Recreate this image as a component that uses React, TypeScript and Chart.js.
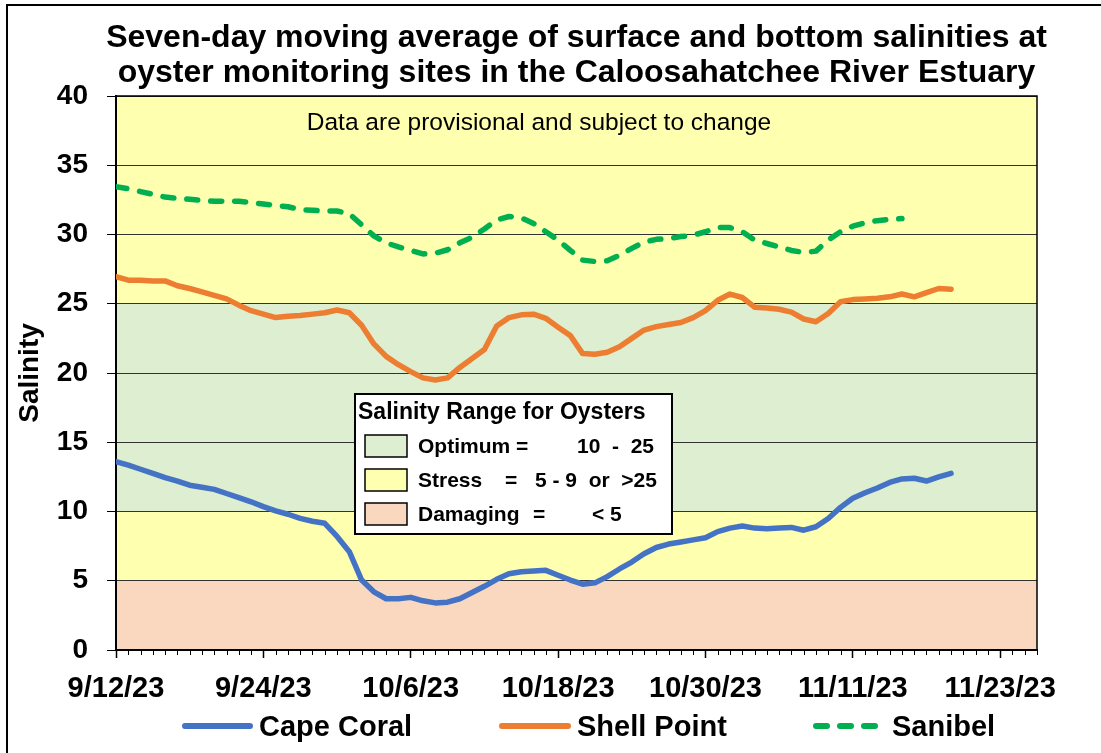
import React, { useEffect, useRef } from "react";
import { Chart, registerables } from "chart.js";

Chart.register(...registerables);

// ---------- data ----------
const tickLabels = ["9/12/23", "9/24/23", "10/6/23", "10/18/23", "10/30/23", "11/11/23", "11/23/23"];
const axisDays = 75;
const tickStep = 12;

const capeCoral = [
  13.6, 13.35, 13.05, 12.75, 12.45, 12.2, 11.9, 11.75, 11.6, 11.3,
  11.0, 10.7, 10.35, 10.05, 9.8, 9.5, 9.3, 9.15, 8.2, 7.1,
  5.05, 4.2, 3.7, 3.7, 3.8, 3.55, 3.4, 3.45, 3.7, 4.15,
  4.6, 5.1, 5.5, 5.65, 5.7, 5.75, 5.4, 5.05, 4.75, 4.85,
  5.3, 5.85, 6.35, 6.95, 7.4, 7.65, 7.8, 7.95, 8.1, 8.55,
  8.8, 8.95, 8.8, 8.75, 8.8, 8.85, 8.65, 8.9, 9.5, 10.3,
  10.95, 11.35, 11.7, 12.1, 12.35, 12.4, 12.2, 12.5, 12.75,
];

const shellPoint = [
  26.95, 26.7, 26.7, 26.65, 26.65, 26.3, 26.1, 25.85, 25.6, 25.35,
  24.9, 24.5, 24.25, 24.0, 24.1, 24.15, 24.25, 24.35, 24.55, 24.35,
  23.45, 22.1, 21.2, 20.6, 20.1, 19.65, 19.5, 19.65, 20.4, 21.05,
  21.7, 23.4, 24.0, 24.2, 24.25, 23.95, 23.3, 22.7, 21.4, 21.35,
  21.5, 21.9, 22.5, 23.1, 23.35, 23.5, 23.65, 24.0, 24.5, 25.25,
  25.7, 25.45, 24.75, 24.7, 24.6, 24.4, 23.9, 23.7, 24.3, 25.15,
  25.3, 25.35, 25.4, 25.5, 25.7, 25.5, 25.8, 26.1, 26.05,
];

const sanibel = [
  33.45, 33.3, 33.1, 32.9, 32.7, 32.6, 32.55, 32.45, 32.4, 32.4,
  32.4, 32.3, 32.2, 32.1, 32.0, 31.8, 31.75, 31.7, 31.7, 31.5,
  30.7, 29.9, 29.4, 29.1, 28.85, 28.6, 28.65, 28.9, 29.4, 29.8,
  30.4, 31.05, 31.3, 31.2, 30.8, 30.2, 29.6, 28.85, 28.15, 28.05,
  28.1, 28.5, 29.0, 29.45, 29.65, 29.7, 29.85, 29.95, 30.2, 30.5,
  30.5, 30.2, 29.6, 29.35, 29.1, 28.85, 28.7, 28.8, 29.6, 30.2,
  30.6, 30.85, 31.0, 31.1, 31.15,
];

const seriesNames = ["Cape Coral", "Shell Point", "Sanibel"];

const bandFrom = [0, 5, 10, 25];
const bandTo = [5, 10, 25, 40];

const titleLines = [
  "Seven-day moving average of surface and bottom salinities at",
  "oyster monitoring sites in the Caloosahatchee River Estuary",
];
const noteText = "Data are provisional and subject to change";
const yTitle = "Salinity";

const rangeTitle = "Salinity Range for Oysters";
const rangeNames = ["Optimum =", "Stress", "Damaging"];
const rangeEquals = ["", "=", "="];
const rangeValues = ["10  -  25", "5 - 9  or  >25", "< 5"];

// ---------- styles ----------
const FONT = '"Liberation Sans", Arial, Helvetica, sans-serif';
const BLUE = "#4472C4";
const ORANGE = "#ED7D31";
const GREEN = "#00B050";
const PEACH = "#FAD8C0";
const YELLOW = "#FFFFB0";
const LIGHTGREEN = "#DDEFD0";
const bandColors = [PEACH, YELLOW, LIGHTGREEN, YELLOW];
const swatchColors = [LIGHTGREEN, YELLOW, PEACH];

const toPoints = (arr: number[]) => arr.map((v, i) => ({ x: i, y: v }));

const bandsPlugin = {
  id: "bands",
  beforeDraw(chart: any) {
    const { ctx, chartArea: a, scales } = chart;
    const y = scales.y;
    ctx.save();
    bandFrom.forEach((lo, i) => {
      const top = y.getPixelForValue(bandTo[i]);
      const bot = y.getPixelForValue(lo);
      ctx.fillStyle = bandColors[i];
      ctx.fillRect(a.left, top, a.right - a.left, bot - top);
    });
    ctx.restore();
  },
};

const overlayPlugin = {
  id: "overlay",
  afterDraw(chart: any) {
    const { ctx, chartArea: a, scales } = chart;
    const x = scales.x;
    ctx.save();

    // title, centred over the plot area
    ctx.fillStyle = "#000";
    ctx.textBaseline = "middle";
    ctx.textAlign = "center";
    ctx.font = `bold 32px ${FONT}`;
    const cx = (a.left + a.right) / 2;
    titleLines.forEach((line, i) => {
      ctx.fillText(line, cx, 38 + i * 35);
    });

    // plot frame
    ctx.strokeStyle = "#000";
    ctx.lineWidth = 1.5;
    ctx.beginPath();
    ctx.moveTo(a.left, a.top);
    ctx.lineTo(a.right, a.top);
    ctx.lineTo(a.right, a.bottom);
    ctx.stroke();

    // minor ticks (daily)
    ctx.lineWidth = 1;
    ctx.strokeStyle = "#000";
    for (let d = 0; d <= axisDays; d++) {
      if (d % tickStep === 0) continue;
      const px = Math.round(x.getPixelForValue(d)) + 0.5;
      ctx.beginPath();
      ctx.moveTo(px, a.bottom);
      ctx.lineTo(px, a.bottom + 5);
      ctx.stroke();
    }

    // note text
    ctx.fillStyle = "#000";
    ctx.textAlign = "center";
    ctx.font = `24.5px ${FONT}`;
    ctx.fillText(noteText, a.left + 423, a.top + 27);

    // salinity range box
    const bx = a.left + 239;
    const by = a.top + 298;
    const bw = 317;
    const bh = 140;
    ctx.fillStyle = "#fff";
    ctx.fillRect(bx, by, bw, bh);
    ctx.lineWidth = 2;
    ctx.strokeStyle = "#000";
    ctx.strokeRect(bx, by, bw, bh);
    ctx.fillStyle = "#000";
    ctx.textAlign = "left";
    ctx.font = `bold 23px ${FONT}`;
    ctx.fillText(rangeTitle, bx + 3, by + 19);
    const eqX = [0, 150, 178];
    const valX = [222, 180, 237];
    ctx.font = `bold 21px ${FONT}`;
    rangeNames.forEach((name, i) => {
      const sy = by + 41 + i * 34;
      ctx.fillStyle = swatchColors[i];
      ctx.fillRect(bx + 10, sy, 42, 22);
      ctx.lineWidth = 1.5;
      ctx.strokeStyle = "#000";
      ctx.strokeRect(bx + 10, sy, 42, 22);
      ctx.fillStyle = "#000";
      ctx.fillText(name, bx + 63, sy + 12);
      if (rangeEquals[i]) ctx.fillText(rangeEquals[i], bx + eqX[i], sy + 12);
      ctx.fillText(rangeValues[i], bx + valX[i], sy + 12);
    });

    // series legend
    const lineStart = [182, 499, 813];
    const lineEnd = [253, 571, 878];
    const textX = [259, 577, 892];
    const ly = 726;
    chart.data.datasets.forEach((ds: any, i: number) => {
      ctx.strokeStyle = ds.borderColor;
      ctx.lineWidth = 6;
      ctx.lineCap = "round";
      ctx.setLineDash(ds.borderDash || []);
      ctx.beginPath();
      ctx.moveTo(lineStart[i] + 3, ly);
      ctx.lineTo(lineEnd[i] - 3, ly);
      ctx.stroke();
      ctx.setLineDash([]);
      ctx.fillStyle = "#000";
      ctx.font = `bold 29px ${FONT}`;
      ctx.textAlign = "left";
      ctx.fillText(ds.label, textX[i], ly + 2);
    });

    ctx.restore();
  },
};

export default function App() {
  const canvasRef = useRef<HTMLCanvasElement | null>(null);

  useEffect(() => {
    if (!canvasRef.current) return;
    const chart = new Chart(canvasRef.current, {
      type: "line",
      data: {
        datasets: [
          {
            label: seriesNames[0],
            data: toPoints(capeCoral),
            borderColor: BLUE,
            backgroundColor: BLUE,
            borderWidth: 5.5,
            pointRadius: 0,
            fill: false,
            tension: 0,
            borderJoinStyle: "round",
            borderCapStyle: "round",
          },
          {
            label: seriesNames[1],
            data: toPoints(shellPoint),
            borderColor: ORANGE,
            backgroundColor: ORANGE,
            borderWidth: 5.5,
            pointRadius: 0,
            fill: false,
            tension: 0,
            borderJoinStyle: "round",
            borderCapStyle: "round",
          },
          {
            label: seriesNames[2],
            data: toPoints(sanibel),
            borderColor: GREEN,
            backgroundColor: GREEN,
            borderWidth: 5.5,
            borderDash: [11, 13],
            pointRadius: 0,
            fill: false,
            tension: 0,
            borderJoinStyle: "round",
            borderCapStyle: "round",
          },
        ],
      } as any,
      options: {
        animation: false,
        responsive: false,
        devicePixelRatio: 1,
        layout: { padding: { left: 0, right: 64, top: 96, bottom: 55 } },
        plugins: {
          legend: { display: false },
          tooltip: { enabled: false },
          title: { display: false },
        },
        scales: {
          x: {
            type: "linear",
            min: 0,
            max: axisDays,
            afterFit: (s: any) => {
              s.height = 48;
            },
            ticks: {
              stepSize: tickStep,
              includeBounds: false,
              autoSkip: false,
              maxRotation: 0,
              color: "#000",
              padding: 14,
              font: { family: FONT, size: 29, weight: "bold" },
              callback: (v: any) => tickLabels[Math.round(Number(v) / tickStep)] ?? "",
            },
            grid: {
              drawOnChartArea: false,
              drawTicks: true,
              tickLength: 8,
              tickColor: "#000",
              tickWidth: 1.5,
            },
            border: { display: true, color: "#000", width: 2 },
          },
          y: {
            min: 0,
            max: 40,
            afterFit: (s: any) => {
              s.width = 116;
            },
            ticks: {
              stepSize: 5,
              color: "#000",
              padding: 19,
              font: { family: FONT, size: 28, weight: "bold" },
            },
            grid: {
              color: "#333333",
              lineWidth: 1,
              tickLength: 9,
              tickColor: "#000",
            },
            border: { display: true, color: "#000", width: 2 },
            title: {
              display: true,
              text: yTitle,
              color: "#000",
              font: { family: FONT, size: 28, weight: "bold" },
              padding: { top: 13, bottom: 0 },
            },
          },
        },
      } as any,
      plugins: [bandsPlugin, overlayPlugin],
    });
    return () => chart.destroy();
  }, []);

  return (
    <div
      style={{
        position: "fixed",
        left: 0,
        top: 0,
        width: 1101,
        height: 753,
        background: "#fff",
        overflow: "hidden",
      }}
    >
      <div
        style={{
          position: "absolute",
          left: 6,
          top: 4,
          width: 1200,
          height: 1000,
          border: "2px solid #000",
        }}
      />
      <canvas
        ref={canvasRef}
        width={1101}
        height={753}
        style={{ position: "absolute", left: 0, top: 0, width: 1101, height: 753 }}
      />
    </div>
  );
}
